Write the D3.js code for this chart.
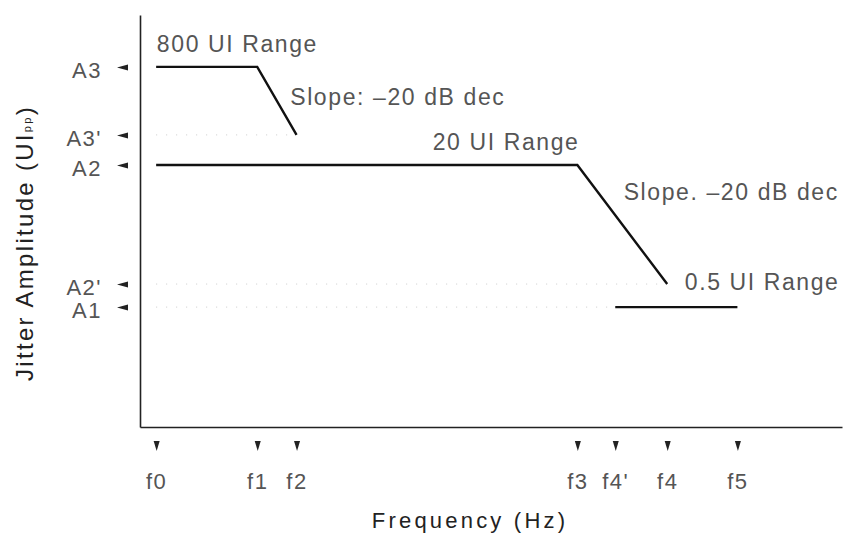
<!DOCTYPE html>
<html>
<head>
<meta charset="utf-8">
<script src="https://cdn.jsdelivr.net/npm/d3@7"></script>
<style>
  body { margin: 0; background: #fff; }
  .chart text { font-family: "Liberation Sans", Arial, sans-serif; }
  .chart__axis .domain { stroke: #222; stroke-width: 1.6; }
  .chart__axis text { fill: #555; letter-spacing: 1.5px; }
  .chart__line { fill: none; stroke: #111; stroke-width: 2.4; }
  .chart__guide { fill: none; stroke: #ccc; stroke-width: 1; stroke-dasharray: 1 9; }
  .chart__note { fill: #555; font-size: 23px; letter-spacing: 1.6px; }
  .chart__title { fill: #222; }
</style>
</head>
<body>
<svg class="chart"></svg>
<script>
// frequency breakpoints (log-frequency position, 0..100)
const freqLabels = ["f0", "f1", "f2", "f3", "f4'", "f4", "f5"];
const freqPos = [2.3, 16.7, 22.3, 62.3, 67.7, 75.1, 85.1];

// amplitude levels (log-amplitude position, 0..100)
const ampLabels = ["A3", "A3'", "A2", "A2'", "A1"];
const ampPos = [87.4, 70.9, 63.6, 34.7, 29.1];

// jitter tolerance masks, as [frequency, amplitude] breakpoints
const range800 = [["f0", "A3"], ["f1", "A3"], ["f2", "A3'"]];
const range20 = [["f0", "A2"], ["f3", "A2"], ["f4", "A2'"]];
const range05 = [["f4'", "A1"], ["f5", "A1"]];

// faint guide lines
const guides = [[["f0", "A3'"], ["f2", "A3'"]], [["f0", "A2'"], ["f4", "A2'"]], [["f0", "A1"], ["f4'", "A1"]]];

// annotations: text, anchor in axis units
const notes = [
  { text: "800 UI Range", x: 2.4, y: 91.0 },
  { text: "Slope: \u201320 dB dec", x: 21.4, y: 78.2 },
  { text: "20 UI Range", x: 41.7, y: 67.2 },
  { text: "Slope. \u201320 dB dec", x: 68.9, y: 55.1 },
  { text: "0.5 UI Range", x: 77.6, y: 33.3 }
];

const width = 844, height = 537;
const fx = new Map(freqLabels.map((d, i) => [d, freqPos[i]]));
const ay = new Map(ampLabels.map((d, i) => [d, ampPos[i]]));

const scaleX = d3.scaleLinear().domain([0, 100]).range([140, 842]);
const scaleY = d3.scaleLinear().domain([0, 100]).range([427, 15]);

const svg = d3.select(".chart").attr("width", width).attr("height", height);

// guides
const line = d3.line()
    .x(d => scaleX(fx.get(d[0])))
    .y(d => scaleY(ay.get(d[1])));

svg.selectAll(".chart__guide").data(guides).join("path")
    .attr("class", "chart__guide").attr("d", line);

// axes
const yAxis = svg.append("g").attr("class", "chart__axis chart__axis--y")
    .attr("transform", `translate(${scaleX(0)},0)`)
    .call(d3.axisLeft(scaleY).tickValues(ampPos).tickFormat((d, i) => ampLabels[i])
        .tickSize(0).tickSizeOuter(0).tickPadding(38));
yAxis.selectAll(".tick text").attr("font-size", 22).attr("dy", "0.48em");
yAxis.selectAll(".tick").append("path").attr("d", "M-23,0L-12,-3L-12,3Z").attr("fill", "#222");

const xAxis = svg.append("g").attr("class", "chart__axis chart__axis--x")
    .attr("transform", `translate(0,${scaleY(0)})`)
    .call(d3.axisBottom(scaleX).tickValues(freqPos).tickFormat((d, i) => freqLabels[i])
        .tickSize(0).tickSizeOuter(0).tickPadding(46));
xAxis.selectAll(".tick text").attr("font-size", 22);
xAxis.selectAll(".tick").append("path").attr("d", "M-3,14L3,14L0,24Z").attr("fill", "#222");

// masks
svg.selectAll(".chart__line").data([range800, range20, range05]).join("path")
    .attr("class", "chart__line").attr("d", line);

// annotations
svg.selectAll(".chart__note").data(notes).join("text")
    .attr("class", "chart__note")
    .attr("x", d => scaleX(d.x)).attr("y", d => scaleY(d.y))
    .text(d => d.text);

// titles
svg.append("text").attr("class", "chart__title")
    .attr("x", 470).attr("y", 528).attr("text-anchor", "middle")
    .attr("font-size", 22).attr("letter-spacing", 3.2)
    .text("Frequency (Hz)");

const yTitle = svg.append("text").attr("class", "chart__title")
    .attr("transform", "translate(33,243) rotate(-90)")
    .attr("text-anchor", "middle")
    .attr("font-size", 24).attr("letter-spacing", 2.3);
yTitle.append("tspan").text("Jitter Amplitude (UI");
yTitle.append("tspan").attr("font-size", 11).attr("dy", -2).text("pp");
yTitle.append("tspan").attr("dy", 2).text(")");
</script>
</body>
</html>
